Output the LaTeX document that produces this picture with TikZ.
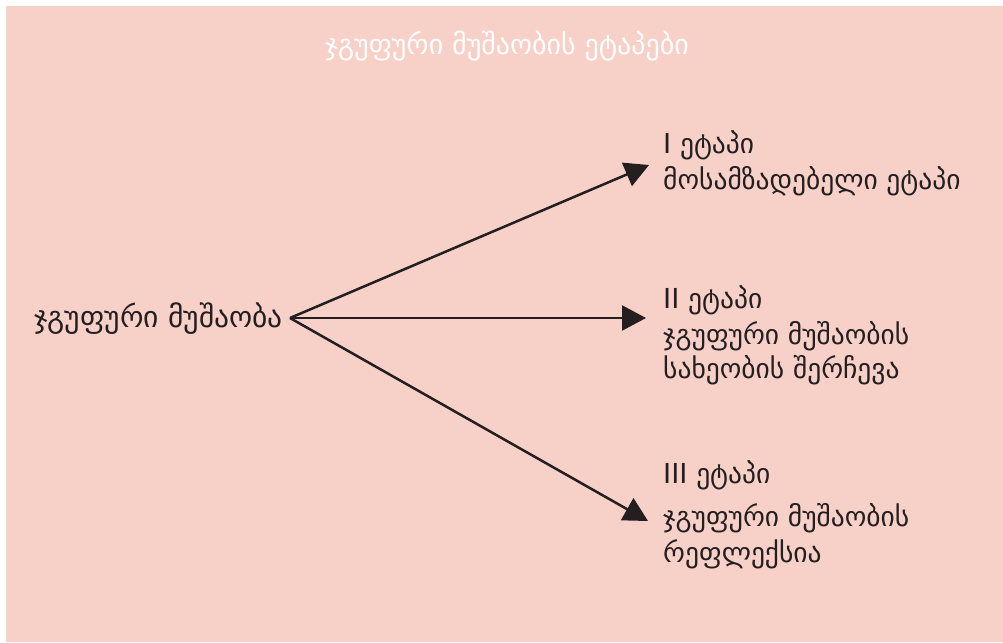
\documentclass[tikz,border=0pt]{standalone}
\usepackage{fontspec}
\setmainfont{DejaVu Sans}
\usetikzlibrary{arrows.meta}
\definecolor{bgpink}{RGB}{247,208,200}
\definecolor{ink}{RGB}{35,31,32}
\begin{document}
\begin{tikzpicture}[x=1pt,y=-1pt,
  conn/.style={draw=ink,line width=2.5pt,-{Triangle[length=24pt,width=25pt]}},
  lbl/.style={text=ink,font=\fontsize{27.5}{32}\selectfont,inner sep=0pt,anchor=base west}]
\useasboundingbox (0,0) rectangle (1003,642);
\fill[bgpink] (6,6) rectangle (1003,642);
\node[text=white,font=\fontsize{28}{32}\selectfont,inner sep=0pt,anchor=base] (title) at (507,55) {ჯგუფური მუშაობის ეტაპები};
\node[lbl,anchor=base east,font=\fontsize{29.5}{32}\selectfont] (src) at (283,327) {ჯგუფური მუშაობა};
\coordinate (o) at (290,318);
\node[lbl] (s1a) at (663,153) {I ეტაპი};
\node[lbl] (s1b) at (663,189) {მოსამზადებელი ეტაპი};
\node[lbl] (s2a) at (663,308) {II ეტაპი};
\node[lbl] (s2b) at (663,344) {ჯგუფური მუშაობის};
\node[lbl] (s2c) at (663,378) {სახეობის შერჩევა};
\node[lbl] (s3a) at (663,483) {III ეტაპი};
\node[lbl] (s3b) at (663,526) {ჯგუფური მუშაობის};
\node[lbl] (s3c) at (663,562) {რეფლექსია};
\coordinate (t1) at (649,165);
\coordinate (t2) at (646,318);
\coordinate (t3) at (648,521);
\draw[conn] (o) -- (t1);
\draw[conn] (o) -- (t2);
\draw[conn] (o) -- (t3);
\end{tikzpicture}
\end{document}
